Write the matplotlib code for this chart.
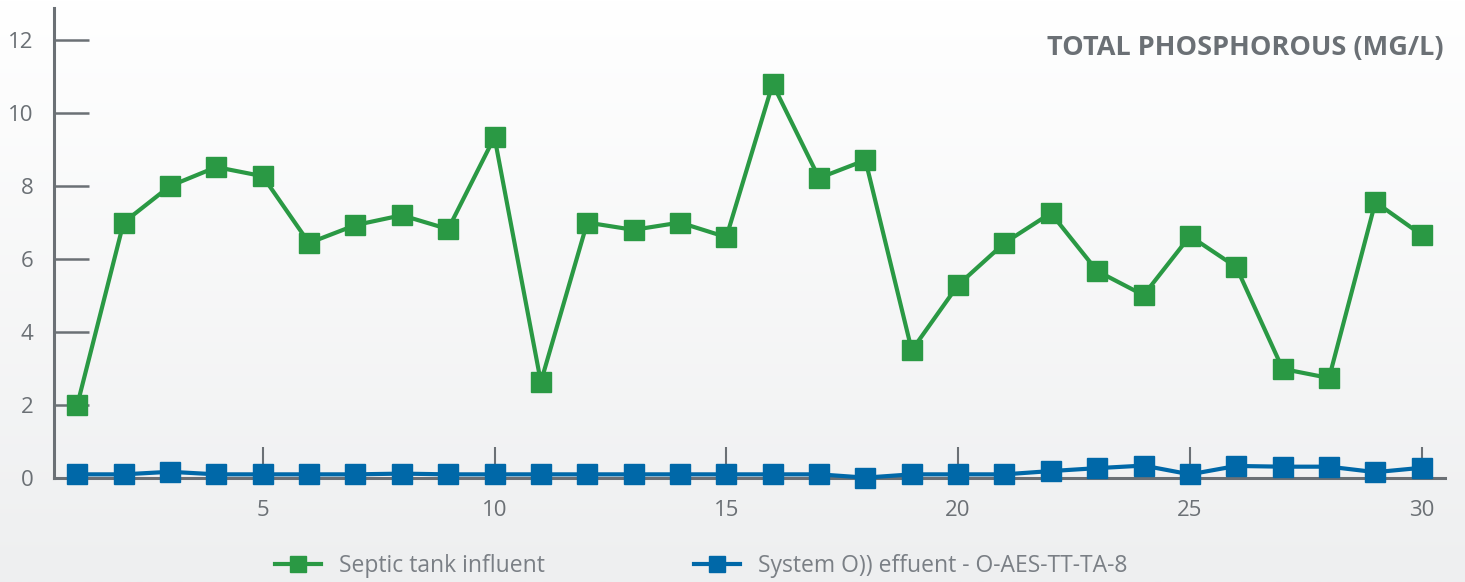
import matplotlib.pyplot as plt
import numpy as np
from matplotlib.lines import Line2D
from matplotlib.colors import LinearSegmentedColormap

# sample days
days = list(range(1, 31))

# total phosphorous, mg/L
influent = [2.0, 7.0, 8.0, 8.52, 8.27, 6.44, 6.93, 7.2, 6.82, 9.34,
            2.63, 7.0, 6.8, 7.0, 6.6, 10.8, 8.22, 8.71, 3.5, 5.29,
            6.44, 7.26, 5.67, 5.01, 6.63, 5.78, 2.99, 2.74, 7.56, 6.66]
effluent = [0.1, 0.1, 0.17, 0.1, 0.1, 0.1, 0.1, 0.12, 0.1, 0.1,
            0.1, 0.1, 0.1, 0.1, 0.1, 0.1, 0.1, 0.01, 0.1, 0.1,
            0.1, 0.19, 0.27, 0.34, 0.1, 0.33, 0.31, 0.31, 0.16, 0.28]

x_ticks = [5, 10, 15, 20, 25, 30]
y_ticks = [0, 2, 4, 6, 8, 10, 12]

title = "TOTAL PHOSPHOROUS (MG/L)"
labels = ["Septic tank influent", "System O)) effuent - O-AES-TT-TA-8"]

green = "#2a9944"
blue = "#0068a8"
axis_col = "#6b7075"
text_col = "#6b7075"

plt.rcParams['font.family'] = ['Open Sans', 'DejaVu Sans']

fig = plt.figure(figsize=(14.65, 5.82), dpi=100)

# soft vertical gradient behind everything
bg = fig.add_axes([0, 0, 1, 1], zorder=-10)
grad = np.linspace(1.0, 0.0, 256).reshape(-1, 1)
bg.imshow(grad, aspect='auto', extent=[0, 1, 0, 1],
          cmap=LinearSegmentedColormap.from_list('bg', ['#eeeff0', '#ffffff']))
bg.axis('off')

ax = fig.add_axes([0.0369, 0.1787, 0.9494, 0.8076])
ax.patch.set_alpha(0)

ax.plot(days, influent, color=green, lw=3, marker='s', ms=14,
        clip_on=False, zorder=3)
ax.plot(days, effluent, color=blue, lw=3, marker='s', ms=14,
        clip_on=False, zorder=4)

ax.set_xlim(0.5, 30.5)
ax.set_ylim(0, 12.88)
ax.set_xticks(x_ticks)
ax.set_yticks(y_ticks)

for s in ['top', 'right']:
    ax.spines[s].set_visible(False)
for s in ['left', 'bottom']:
    ax.spines[s].set_color(axis_col)
    ax.spines[s].set_linewidth(2.2)

ax.tick_params(axis='y', direction='in', length=25, width=1.8, color=axis_col,
               labelsize=16, labelcolor=text_col, pad=15)
ax.tick_params(axis='x', direction='in', length=22, width=1.5, color=axis_col,
               labelsize=16, labelcolor=text_col, pad=16)

ax.text(0.999, 0.915, title, transform=ax.transAxes, ha='right', va='center',
        fontsize=19.5, fontweight='bold', color=text_col)

handles = [Line2D([], [], color=green, lw=3, marker='s', ms=12),
           Line2D([], [], color=blue, lw=3, marker='s', ms=12)]
fig.legend(handles, labels, loc='center', bbox_to_anchor=(0.4785, 0.027),
           ncol=2, frameon=False, labelcolor='#7a7f85',
           handlelength=2.0, columnspacing=6.5,
           prop={'family': ['Open Sans', 'DejaVu Sans'], 'size': 16.5})

fig.savefig('out.png', dpi=100)
